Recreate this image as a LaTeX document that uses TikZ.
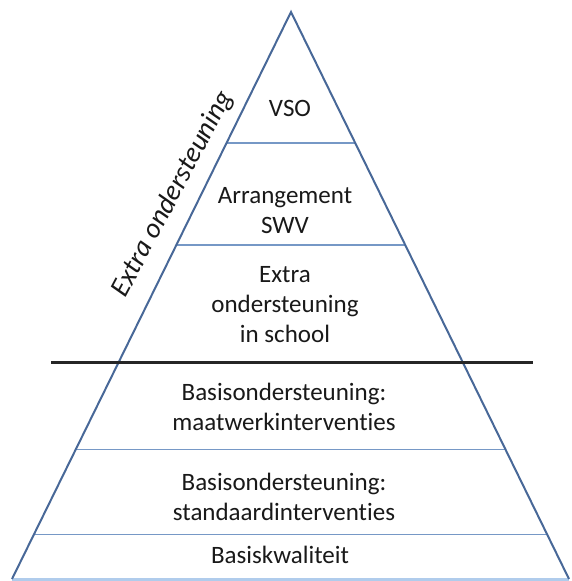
\documentclass[tikz,border=0pt]{standalone}
\usepackage{fontspec}
\setmainfont{Carlito}[Ligatures=NoCommon]
\usetikzlibrary{calc}
\definecolor{edgeblue}{RGB}{72,104,152}
\definecolor{layerblue}{RGB}{118,152,198}
\definecolor{baseblue}{RGB}{176,204,236}
\tikzset{
	layertext/.style={align=center, font=\fontsize{25}{30}\selectfont, text=black!90},
	layerline/.style={line width=1.2pt, color=layerblue}
}

\begin{document}
\begin{tikzpicture}[x=1pt, y=-1pt]
			%%%%% START %%%%%
			\useasboundingbox[fill=white] (0, 0) rectangle (571, 581);
			
			\coordinate (top) at (291, 12);
			\coordinate (botleft) at (12, 579);
			\coordinate (botright) at (569, 579);
			
			\draw[line width=3pt, color=baseblue] (botleft) -- (botright);
			
			\draw[layerline] ($(top)!0.231!(botleft)$) -- ($(top)!0.231!(botright)$);
			\draw[layerline] ($(top)!0.411!(botleft)$) -- ($(top)!0.411!(botright)$);
			\draw[layerline] ($(top)!0.771!(botleft)$) -- ($(top)!0.771!(botright)$);
			\draw[layerline] ($(top)!0.921!(botleft)$) -- ($(top)!0.921!(botright)$);
			
			\draw[line width=2pt, color=edgeblue, line join=miter] (botleft) -- (top) -- (botright);
			
			\coordinate (splitleft) at (51, 362);
			\coordinate (splitright) at (533, 362);
			\draw[line width=3pt, color=black!85] (splitleft) -- (splitright);
			
			\node[layertext] (vso) at (290, 108) {VSO};
			\node[layertext] (arrangement) at (285, 211) {Arrangement\\SWV};
			\node[layertext] (extraschool) at (285, 305) {Extra\\ondersteuning\\in school};
			\node[layertext] (maatwerk) at (284, 407) {Basisondersteuning:\\maatwerkinterventies};
			\node[layertext] (standaard) at (284, 497) {Basisondersteuning:\\standaardinterventies};
			\node[layertext] (kwaliteit) at (280, 555) {Basiskwaliteit};
			
			\node[layertext, font=\fontsize{28}{32}\selectfont\itshape, rotate=62] (extra) at (173, 194) {Extra ondersteuning};
			
			%%%%% END %%%%%
\end{tikzpicture}
\end{document}
